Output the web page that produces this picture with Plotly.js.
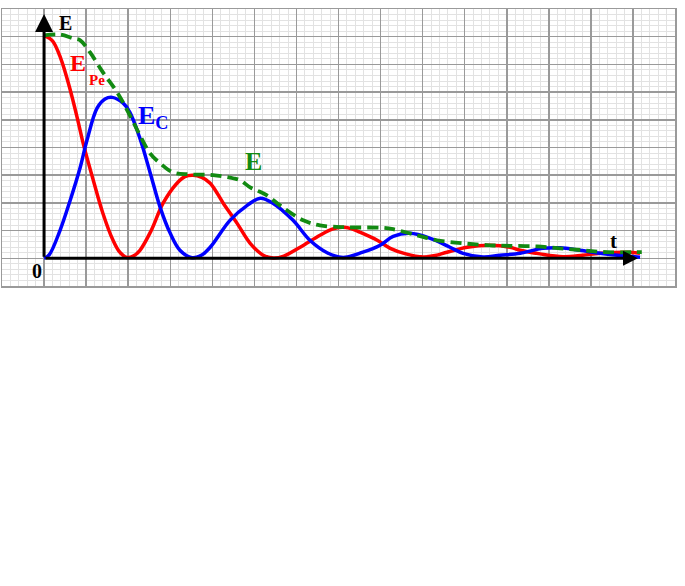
<!DOCTYPE html>
<html>
<head>
<meta charset="utf-8">
<script src="https://cdn.plot.ly/plotly-3.0.1.min.js"></script>
<style>html,body{margin:0;padding:0;background:#fff;}#chart{width:685px;height:586px;}</style>
</head>
<body>
<div id="chart"></div>
<script>
// Potential energy E_Pe (red)
var tPe = [0, 0.20, 0.40, 0.60, 0.80, 0.93, 1.17, 1.40, 1.64, 1.80, 1.97, 2.12, 2.28, 2.55, 2.83, 3.16, 3.35, 3.54, 3.75, 3.95, 4.26, 4.59, 4.90, 5.21, 5.45, 5.70, 6.09, 6.56, 6.85, 7.09, 7.30, 7.51, 7.92, 8.23, 8.60, 9.01, 9.30, 9.58, 10.06, 10.60, 11.08, 11.32, 11.79, 12.34, 12.80, 13.22, 13.86, 14.17];
var ePe = [8.05, 7.85, 7.20, 6.20, 5.00, 4.15, 2.82, 1.62, 0.65, 0.22, 0.03, 0.08, 0.29, 1.01, 1.99, 2.71, 2.95, 3.00, 2.92, 2.71, 1.99, 1.26, 0.54, 0.11, 0.01, 0.08, 0.40, 0.83, 1.05, 1.12, 1.07, 0.94, 0.65, 0.36, 0.16, 0.05, 0.10, 0.22, 0.40, 0.47, 0.40, 0.29, 0.16, 0.06, 0.11, 0.18, 0.22, 0.18];
// Kinetic energy E_C (blue)
var tC = [0, 0.12, 0.38, 0.62, 0.86, 1.02, 1.26, 1.45, 1.62, 1.88, 2.04, 2.28, 2.52, 2.76, 3.00, 3.23, 3.52, 3.75, 3.95, 4.42, 4.83, 5.14, 5.44, 5.92, 6.32, 6.73, 7.11, 7.58, 7.99, 8.30, 8.70, 9.18, 9.65, 9.96, 10.44, 10.84, 11.32, 11.86, 12.27, 12.74, 13.22, 13.69, 14.17];
var eC = [0, 0.12, 1.01, 2.09, 3.29, 4.26, 5.42, 5.75, 5.81, 5.60, 5.27, 4.33, 3.10, 1.84, 0.90, 0.29, 0.02, 0.12, 0.40, 1.37, 1.91, 2.17, 1.99, 1.37, 0.65, 0.20, 0.03, 0.22, 0.47, 0.79, 0.90, 0.72, 0.40, 0.18, 0.05, 0.11, 0.18, 0.36, 0.38, 0.29, 0.18, 0.10, 0.04];
// Total energy E (green, dashed)
var tE = [0, 0.38, 0.69, 0.86, 1.09, 1.40, 1.74, 2.04, 2.28, 2.52, 2.76, 3.07, 3.47, 4.02, 4.49, 4.66, 4.90, 5.06, 5.30, 5.61, 6.16, 6.56, 7.20, 8.06, 8.30, 8.87, 9.34, 9.96, 10.60, 11.08, 11.72, 12.27, 12.82, 13.39, 14.00, 14.21];
var eTot = [8.05, 8.08, 7.94, 7.87, 7.44, 6.71, 5.99, 5.16, 4.44, 3.79, 3.43, 3.10, 3.03, 3.00, 2.89, 2.82, 2.56, 2.45, 2.27, 1.91, 1.37, 1.19, 1.12, 1.10, 1.05, 0.83, 0.65, 0.54, 0.47, 0.45, 0.43, 0.36, 0.29, 0.22, 0.22, 0.22];

var serif = 'Liberation Serif, Times New Roman, serif';

var traces = [
  {x: tPe, y: ePe, mode: 'lines', line: {color: '#ff0000', width: 3.5, shape: 'spline', smoothing: 1}, hoverinfo: 'skip'},
  {x: tC, y: eC, mode: 'lines', line: {color: '#0000ff', width: 3.5, shape: 'spline', smoothing: 1}, hoverinfo: 'skip'},
  {x: tE, y: eTot, mode: 'lines', line: {color: '#128a12', width: 3.8, shape: 'spline', smoothing: 1, dash: '11px,6px'}, hoverinfo: 'skip'}
];

var axisCommon = {
  showticklabels: false, ticks: '', zeroline: false,
  showgrid: true, gridcolor: '#9a9a9a', gridwidth: 1.5, dtick: 1, tick0: 0,
  minor: {dtick: 0.2, showgrid: true, gridcolor: '#e2e2e2', gridwidth: 1},
  showline: true, linecolor: '#9a9a9a', linewidth: 1.5, mirror: true, fixedrange: true
};

var layout = {
  width: 685, height: 586,
  margin: {l: 2, r: 10, t: 9, b: 300, pad: 0},
  paper_bgcolor: '#ffffff', plot_bgcolor: '#ffffff',
  showlegend: false,
  xaxis: Object.assign({}, axisCommon, {range: [-1, 15]}),
  yaxis: Object.assign({}, axisCommon, {range: [-1, 9]}),
  annotations: [
    // axes arrows
    {x: 0, y: 8.82, ax: 0, ay: 0, xref: 'x', yref: 'y', axref: 'x', ayref: 'y', text: '', showarrow: true, arrowhead: 2, arrowsize: 1.2, arrowwidth: 3, arrowcolor: '#000'},
    {x: 14.12, y: 0, ax: 0, ay: 0, xref: 'x', yref: 'y', axref: 'x', ayref: 'y', text: '', showarrow: true, arrowhead: 2, arrowsize: 1.0, arrowwidth: 3, arrowcolor: '#000'},
    // labels
    {x: 0.52, y: 8.48, xref: 'x', yref: 'y', text: '<b>E</b>', showarrow: false, font: {family: serif, size: 20, color: '#000'}},
    {x: -0.17, y: -0.47, xref: 'x', yref: 'y', text: '<b>0</b>', showarrow: false, font: {family: serif, size: 20, color: '#000'}},
    {x: 13.53, y: 0.63, xref: 'x', yref: 'y', text: '<b>t</b>', showarrow: false, font: {family: serif, size: 21, color: '#000'}},
    {x: 0.58, y: 7.61, xref: 'x', yref: 'y', xanchor: 'left', yanchor: 'top', text: '<b>E</b>', showarrow: false, font: {family: serif, size: 24, color: '#ff0000'}},
    {x: 1.26, y: 6.42, xref: 'x', yref: 'y', xanchor: 'center', yanchor: 'middle', text: '<b>Pe</b>', showarrow: false, font: {family: serif, size: 15, color: '#ff0000'}},
    {x: 2.18, y: 5.74, xref: 'x', yref: 'y', xanchor: 'left', yanchor: 'top', text: '<b>E<sub>C</sub></b>', showarrow: false, font: {family: serif, size: 26, color: '#0000ff'}},
    {x: 4.72, y: 4.10, xref: 'x', yref: 'y', xanchor: 'left', yanchor: 'top', text: '<b>E</b>', showarrow: false, font: {family: serif, size: 26, color: '#128a12'}}
  ]
};

Plotly.newPlot('chart', traces, layout, {staticPlot: true, displayModeBar: false});
</script>
</body>
</html>
